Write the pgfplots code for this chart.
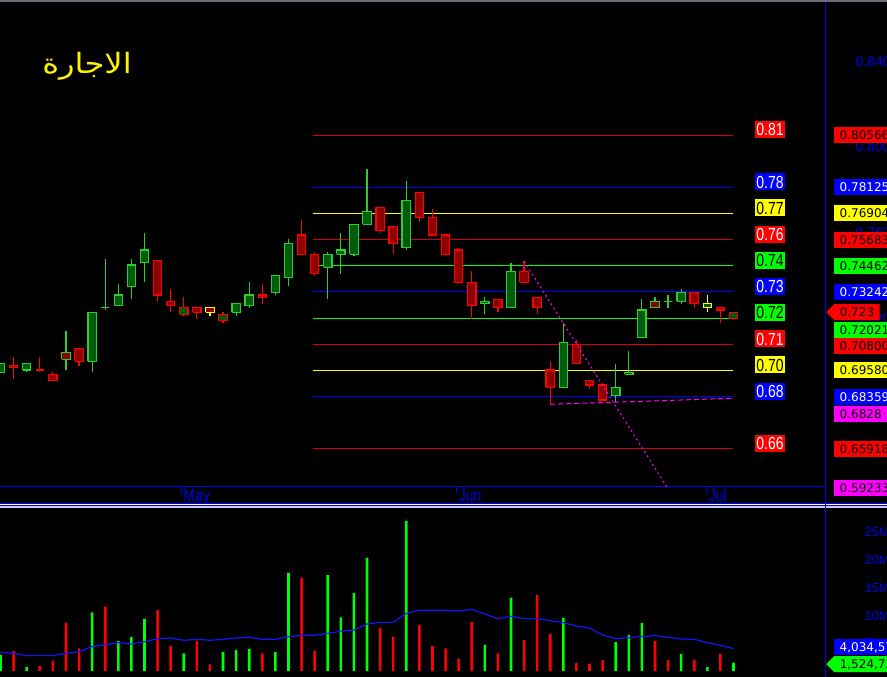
\documentclass[border=0pt]{standalone}
\usepackage{fontspec}
\setmainfont{Liberation Sans}
\newfontfamily\narrowfont[FakeStretch=0.8]{Liberation Sans}
\newfontfamily\tagfont{DejaVu Sans}
\newfontfamily\arabicfont[Script=Arabic,FakeStretch=1.15]{DejaVu Sans}
\TeXXeTstate=1
\usepackage{pgfplots}
\usepackage{pgfplotstable}
\pgfplotsset{compat=1.18}
\usetikzlibrary{shapes.symbols}

\definecolor{upfill}{RGB}{0,92,12}
\definecolor{upedge}{RGB}{45,205,45}
\definecolor{dnfill}{RGB}{140,0,0}
\definecolor{dnedge}{RGB}{255,0,0}
\definecolor{flatedge}{RGB}{255,255,0}
\definecolor{lvred}{RGB}{215,0,0}
\definecolor{lvblue}{RGB}{0,0,255}
\definecolor{lvgreen}{RGB}{0,255,0}
\definecolor{lvyellow}{RGB}{255,255,0}
\definecolor{tagred}{RGB}{255,0,0}
\definecolor{tagblue}{RGB}{0,0,255}
\definecolor{taggreen}{RGB}{0,255,0}
\definecolor{tagyellow}{RGB}{255,255,0}
\definecolor{tagmag}{RGB}{255,0,255}
\definecolor{axblue}{RGB}{0,0,235}
\definecolor{volgreen}{RGB}{0,255,0}
\definecolor{volred}{RGB}{255,0,0}
\definecolor{mablue}{RGB}{20,20,255}
\definecolor{topgray}{RGB}{110,110,120}

% daily open / high / low / close
\pgfplotstableread{
idx O H L C
0 0.695 0.699 0.695 0.699
1 0.698 0.702 0.692 0.697
2 0.696 0.699 0.695 0.699
3 0.696 0.702 0.695 0.696
4 0.694 0.695 0.691 0.691
5 0.704 0.714 0.696 0.701
6 0.706 0.706 0.698 0.700
7 0.700 0.723 0.695 0.723
8 0.725 0.748 0.724 0.725
9 0.726 0.736 0.726 0.731
10 0.735 0.748 0.729 0.745
11 0.746 0.760 0.737 0.752
12 0.747 0.747 0.728 0.731
13 0.728 0.734 0.723 0.726
14 0.722 0.730 0.721 0.725
15 0.725 0.725 0.720 0.723
16 0.725 0.725 0.721 0.723
17 0.719 0.723 0.718 0.722
18 0.723 0.727 0.721 0.727
19 0.726 0.737 0.725 0.731
20 0.731 0.736 0.727 0.730
21 0.732 0.740 0.731 0.740
22 0.739 0.757 0.735 0.755
23 0.759 0.766 0.750 0.750
24 0.750 0.751 0.740 0.741
25 0.744 0.751 0.729 0.750
26 0.750 0.760 0.741 0.752
27 0.750 0.764 0.749 0.764
28 0.764 0.790 0.764 0.770
29 0.772 0.772 0.760 0.761
30 0.763 0.763 0.750 0.755
31 0.753 0.784 0.752 0.775
32 0.779 0.779 0.765 0.767
33 0.767 0.771 0.759 0.759
34 0.759 0.759 0.749 0.750
35 0.752 0.753 0.736 0.737
36 0.737 0.742 0.720 0.726
37 0.727 0.730 0.722 0.728
38 0.729 0.729 0.723 0.725
39 0.725 0.746 0.725 0.742
40 0.742 0.747 0.737 0.737
41 0.730 0.730 0.722 0.725
42 0.696 0.700 0.680 0.688
43 0.688 0.718 0.688 0.709
44 0.708 0.710 0.699 0.699
45 0.691 0.691 0.687 0.689
46 0.689 0.690 0.682 0.682
47 0.684 0.699 0.681 0.688
48 0.694 0.705 0.694 0.695
49 0.711 0.729 0.711 0.724
50 0.728 0.730 0.725 0.725
51 0.728 0.731 0.725 0.728
52 0.728 0.734 0.727 0.732
53 0.732 0.732 0.725 0.727
54 0.725 0.731 0.723 0.727
55 0.725 0.725 0.718 0.724
56 0.720 0.723 0.7195 0.723
}\ohlc
\pgfplotstablecreatecol[create col/expr={min(\thisrow{O},\thisrow{C})}]{lo}\ohlc
\pgfplotstablecreatecol[create col/expr={max(\thisrow{O},\thisrow{C})}]{hi}\ohlc

% volume in millions, up = 1 for a rising session, ma = volume average
\pgfplotstableread{
idx vol up ma
0 2.9 1 3.37
1 3.6 0 3.19
2 0.7 1 2.77
3 0.9 0 2.77
4 1.8 0 2.77
5 8.7 0 3.19
6 4.1 0 3.49
7 10.6 1 4.39
8 11.6 0 4.75
9 5.4 1 5.11
10 6.1 1 4.87
11 9.4 1 5.29
12 11.0 0 5.83
13 4.5 0 5.96
14 3.2 1 5.54
15 5.4 0 5.72
16 1.2 0 5.54
17 3.4 1 5.72
18 3.8 1 5.96
19 4.0 1 6.08
20 3.2 0 5.72
21 3.4 1 5.72
22 17.7 1 6.20
23 16.8 0 6.44
24 3.6 0 6.44
25 17.3 1 6.80
26 9.7 1 7.16
27 14.1 1 7.40
28 20.4 1 8.48
29 7.8 0 8.78
30 6.1 0 8.78
31 27.1 1 10.40
32 8.3 0 10.95
33 4.5 0 10.98
34 4.1 0 10.98
35 2.2 0 10.83
36 8.8 0 11.13
37 4.7 1 10.29
38 3.2 0 9.45
39 13.2 1 9.87
40 5.6 0 9.45
41 13.7 0 9.45
42 6.7 0 9.09
43 9.6 1 8.73
44 1.4 0 8.12
45 1.3 0 7.76
46 2.0 0 6.50
47 5.2 1 5.84
48 6.5 1 6.02
49 8.7 1 6.20
50 5.4 0 6.38
51 2.0 0 6.08
52 3.1 1 5.78
53 2.0 0 5.72
54 0.7 1 5.11
55 3.1 0 4.64
56 1.5247 1 4.0346
}\volume

% one candle from row #1 of \ohlc: body fill #2, edge and wicks #3
\newcommand\drawcandle[3]{%
  \pgfplotstablegetelem{#1}{L}\of\ohlc\let\cLow\pgfplotsretval
  \pgfplotstablegetelem{#1}{H}\of\ohlc\let\cHigh\pgfplotsretval
  \pgfplotstablegetelem{#1}{lo}\of\ohlc\let\cBot\pgfplotsretval
  \pgfplotstablegetelem{#1}{hi}\of\ohlc\let\cTop\pgfplotsretval
  \pgfmathsetmacro\cLeft{#1-0.32}%
  \pgfmathsetmacro\cRight{#1+0.32}%
  \edef\candleplot{%
    \noexpand\addplot[draw=#3, line width=1.2pt] coordinates {(#1,\cLow) (#1,\cBot)};
    \noexpand\addplot[draw=#3, line width=1.2pt] coordinates {(#1,\cTop) (#1,\cHigh)};
    \noexpand\addplot[draw=#3, fill=#2, line width=1.2pt, line join=miter]
      coordinates {(\cLeft,\cBot) (\cRight,\cBot) (\cRight,\cTop) (\cLeft,\cTop) (\cLeft,\cBot)};
  }%
  \candleplot}

\tikzset{
  lvl/.style={font=\narrowfont\fontsize{17.5}{17.5}\selectfont, inner xsep=1.5pt,
    inner ysep=0pt, minimum height=17pt, text height=12.6pt, text depth=0pt, yshift=5.5pt},
  tag/.style={anchor=west, font=\tagfont\fontsize{12}{12}\selectfont, inner xsep=5.5pt,
    inner ysep=0pt, minimum height=16pt, text height=8.8pt, text depth=0pt},
  arrowtag/.style={tag, shape=signal, signal to=west, signal pointer angle=90},
}

\begin{document}
\begin{tikzpicture}
\useasboundingbox (0,0) rectangle (887pt,677pt);
\clip (0,0) rectangle (887pt,677pt);
\fill[black] (0,0) rectangle (887pt,677pt);

% ---------------- price panel ----------------
\begin{axis}[
  at={(0pt,190pt)}, anchor=south west,
  width=825pt, height=485pt, scale only axis,
  xmin=-0.04, xmax=62.99, ymin=0.64141, ymax=0.86773,
  axis x line*=bottom, axis y line*=right,
  axis line style={axblue, line width=1pt},
  tick align=outside, major tick length=7pt,
  xtick={13.8,34.85,53.95}, xticklabels={May,Jun,Jul},
  x tick style={axblue, line width=1pt},
  xticklabel style={text=axblue, font=\narrowfont\fontsize{17.5}{17.5}\selectfont,
    anchor=north west, inner sep=0pt, text height=12.5pt, text depth=0pt,
    xshift=2pt, yshift=5pt},
  ytick={0.72,0.76,0.80,0.84},
  y tick style={draw=none},
  yticklabel style={text=axblue, font=\fontsize{14}{14}\selectfont, anchor=west, xshift=20pt},
  /pgf/number format/.cd, fixed, fixed zerofill, precision=3, assume math mode=true,
  /pgfplots/.cd,
  clip mode=individual,
]
% level lines
\addplot[lvred, line width=1pt] coordinates {(23.85,0.80566) (55.95,0.80566)};
\addplot[lvblue, line width=1pt] coordinates {(23.85,0.78125) (55.95,0.78125)};
\addplot[lvyellow, line width=1pt] coordinates {(23.85,0.76904) (55.95,0.76904)};
\addplot[lvred, line width=1pt] coordinates {(23.85,0.75683) (55.95,0.75683)};
\addplot[lvgreen, line width=1pt] coordinates {(23.85,0.74462) (55.95,0.74462)};
\addplot[lvblue, line width=1pt] coordinates {(23.85,0.73242) (55.95,0.73242)};
\addplot[lvgreen, line width=1pt] coordinates {(23.85,0.72021) (55.95,0.72021)};
\addplot[lvred, line width=1pt] coordinates {(23.85,0.70800) (55.95,0.70800)};
\addplot[lvyellow, line width=1pt] coordinates {(23.85,0.69580) (55.95,0.69580)};
\addplot[lvblue, line width=1pt] coordinates {(23.85,0.68359) (55.95,0.68359)};
\addplot[lvred, line width=1pt] coordinates {(23.85,0.65918) (55.95,0.65918)};

% candles: body fill = close against open, edge = close against previous close
\pgfplotsinvokeforeach{0,2,7,8,9,10,11,18,19,21,22,25,26,27,28,31,37,39,43,47,48,49,51,52}{
  \drawcandle{#1}{upfill}{upedge}}
\pgfplotsinvokeforeach{1,3,4,6,12,13,15,20,23,24,29,30,32,33,34,35,36,38,40,41,42,44,45,46,53,55}{
  \drawcandle{#1}{dnfill}{dnedge}}
\pgfplotsinvokeforeach{5,50}{\drawcandle{#1}{dnfill}{upedge}}
\pgfplotsinvokeforeach{14,17,56}{\drawcandle{#1}{upfill}{dnedge}}
\drawcandle{16}{dnfill}{flatedge}
\drawcandle{54}{upfill}{flatedge}

% trend lines
\addplot[tagmag, line width=1pt, dash pattern=on 5pt off 3pt] coordinates {(42,0.6800) (55.95,0.6828)};
\addplot[tagmag, line width=1pt, dash pattern=on 2pt off 3pt] coordinates {(40,0.7468) (56,0.59233)};

% level labels
\node[lvl, fill=tagred, text=white] at (axis cs:58.79,0.80566) {0.81};
\node[lvl, fill=tagblue, text=white] at (axis cs:58.79,0.78125) {0.78};
\node[lvl, fill=tagyellow, text=black] at (axis cs:58.79,0.76904) {0.77};
\node[lvl, fill=tagred, text=white] at (axis cs:58.79,0.75683) {0.76};
\node[lvl, fill=taggreen, text=black] at (axis cs:58.79,0.74462) {0.74};
\node[lvl, fill=tagblue, text=white] at (axis cs:58.79,0.73242) {0.73};
\node[lvl, fill=taggreen, text=black] at (axis cs:58.79,0.72021) {0.72};
\node[lvl, fill=tagred, text=white] at (axis cs:58.79,0.70800) {0.71};
\node[lvl, fill=tagyellow, text=black] at (axis cs:58.79,0.69580) {0.70};
\node[lvl, fill=tagblue, text=white] at (axis cs:58.79,0.68359) {0.68};
\node[lvl, fill=tagred, text=white] at (axis cs:58.79,0.65918) {0.66};

% anchor points for the value tags on the price scale
\coordinate (pA) at (axis cs:62.99,0.80566);
\coordinate (pB) at (axis cs:62.99,0.78125);
\coordinate (pC) at (axis cs:62.99,0.76904);
\coordinate (pD) at (axis cs:62.99,0.75683);
\coordinate (pE) at (axis cs:62.99,0.74462);
\coordinate (pF) at (axis cs:62.99,0.73242);
\coordinate (pLast) at (axis cs:62.99,0.723);
\coordinate (pG) at (axis cs:62.99,0.72021);
\coordinate (pH) at (axis cs:62.99,0.70800);
\coordinate (pI) at (axis cs:62.99,0.69580);
\coordinate (pJ) at (axis cs:62.99,0.68359);
\coordinate (pK) at (axis cs:62.99,0.6828);
\coordinate (pL) at (axis cs:62.99,0.65918);
\coordinate (pM) at (axis cs:62.99,0.64141);
\end{axis}

% ---------------- volume panel ----------------
\begin{axis}[
  at={(0pt,0pt)}, anchor=south west,
  width=825pt, height=169pt, scale only axis,
  xmin=-0.04, xmax=62.99, ymin=-1.083, ymax=29.42,
  axis x line=none, axis y line*=right,
  axis line style={axblue, line width=1pt},
  major tick length=0pt,
  ytick={5,10,15,20,25},
  yticklabel={\pgfmathprintnumber{\tick}M},
  y tick style={draw=none},
  yticklabel style={text=axblue, font=\fontsize{13}{13}\selectfont, anchor=west, xshift=36pt},
  /pgf/number format/assume math mode=true,
  clip mode=individual,
]
\addplot[ybar, bar width=2.6pt, bar shift=0pt, fill=volgreen, draw=none]
  table[x=idx, y=vol, restrict expr to domain={\thisrow{up}}{1:1}] {\volume};
\addplot[ybar, bar width=2.6pt, bar shift=0pt, fill=volred, draw=none]
  table[x=idx, y=vol, restrict expr to domain={\thisrow{up}}{0:0}] {\volume};
\addplot[mablue, line width=1.2pt] table[x=idx, y=ma] {\volume};
\coordinate (vMA) at (axis cs:62.99,4.0346);
\coordinate (vLast) at (axis cs:62.99,1.5247);
\end{axis}

% frame lines
\fill[topgray] (0,675pt) rectangle (887pt,677pt);
\fill[axblue] (0,169pt) rectangle (887pt,173.5pt);
\draw[white, line width=1.2pt] (0,172.3pt) -- (887pt,172.3pt);
\draw[white!80!blue, line width=1.2pt] (0,170pt) -- (887pt,170pt);
\draw[axblue, line width=1pt] (825pt,0) -- (825pt,675pt);

% value tags on the price scale
\node[tag, fill=tagred, text=black] at ([xshift=9pt]pA) {0.80566};
\node[tag, fill=tagblue, text=white] at ([xshift=9pt]pB) {0.78125};
\node[tag, fill=tagyellow, text=black] at ([xshift=9pt]pC) {0.76904};
\node[tag, fill=tagred, text=black] at ([xshift=9pt]pD) {0.75683};
\node[tag, fill=taggreen, text=black] at ([xshift=9pt]pE) {0.74462};
\node[tag, fill=tagblue, text=white] at ([xshift=9pt]pF) {0.73242};
\node[tag, fill=taggreen, text=black] at ([xshift=9pt,yshift=-12pt]pG) {0.72021};
\node[tag, fill=tagred, text=black] at ([xshift=9pt,yshift=-1.5pt]pH) {0.70800};
\node[tag, fill=tagyellow, text=black] at ([xshift=9pt]pI) {0.69580};
\node[tag, fill=tagblue, text=white] at ([xshift=9pt]pJ) {0.68359};
\node[tag, fill=tagmag, text=black] at ([xshift=9pt,yshift=-15.5pt]pK) {0.6828};
\node[tag, fill=tagred, text=black] at ([xshift=9pt]pL) {0.65918};
\node[tag, fill=tagmag, text=black] at ([xshift=9pt,yshift=-1pt]pM) {0.59233};
\node[arrowtag, fill=tagred, text=black] at ([xshift=1pt]pLast) {0.723};

% value tags on the volume scale
\node[tag, fill=tagblue, text=white] at ([xshift=9pt,yshift=1.5pt]vMA) {4,034,576};
\node[arrowtag, fill=taggreen, text=black] at ([xshift=1pt,yshift=-1.5pt]vLast) {1,524,725};

% title
\node[text=yellow, anchor=base, font=\arabicfont\fontsize{28}{28}\selectfont] at (87pt,603.5pt) {\beginR الاجارة\endR};
\end{tikzpicture}
\end{document}
